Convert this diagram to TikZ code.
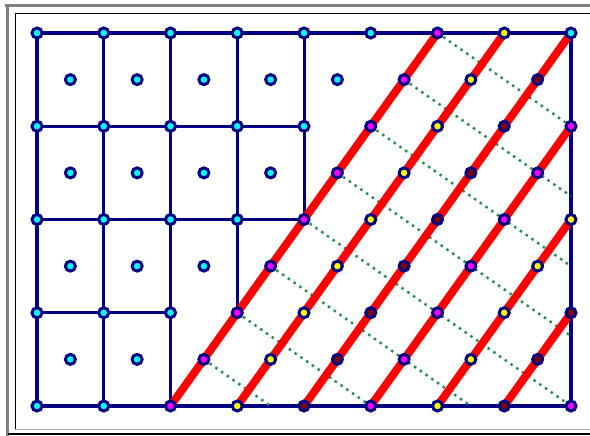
\documentclass[tikz,border=0pt]{standalone}
\usetikzlibrary{backgrounds}
\definecolor{navyc}{RGB}{0,0,128}
\definecolor{cyanc}{RGB}{0,255,255}
\definecolor{magc}{RGB}{255,0,255}
\definecolor{yelc}{RGB}{255,255,0}
\definecolor{drc}{RGB}{128,0,0}
\definecolor{redc}{RGB}{255,0,0}
\definecolor{greenc}{RGB}{46,139,87}
\definecolor{framegray}{RGB}{128,128,128}
\definecolor{framelight}{RGB}{170,170,170}
\begin{document}
\begin{tikzpicture}[x=1pt,y=-1pt,
  dot/.style={circle,draw=navyc,line width=3pt,fill=#1,minimum size=10pt,inner sep=0pt},
  gridline/.style={draw=navyc,line width=3pt},
  borderline/.style={draw=navyc,line width=4pt,line join=miter},
  diag/.style={draw=redc,line width=8pt},
  dual/.style={draw=greenc,line width=2.5pt,dash pattern=on 2.5pt off 4.5pt},
  frameouter/.style={draw=framegray,line width=3pt},
  frameinner/.style={draw=black,line width=1.3pt}]
\useasboundingbox (0,0) rectangle (590,436);
% grid nodes
\foreach \i in {0,...,8}{
  \foreach \j in {0,...,4}{
    \pgfmathtruncatemacro\k{((\i+\j<6) || ((\i==8) && (\j==0))) ? 3 : mod(\i+\j,3)}
    \edef\col{\ifcase\k magc\or yelc\or drc\else cyanc\fi}
    \node[dot=\col] (g\i-\j) at ({37+66.75*\i},{33+93.25*\j}) {};
  }
}
% half-step nodes (cell centres and diagonal nodes)
\foreach \a in {0,...,7}{
  \foreach \b in {0,...,3}{
    \pgfmathtruncatemacro\k{(\a+\b<5) ? 3 : mod(\a+\b+1,3)}
    \edef\col{\ifcase\k magc\or yelc\or drc\else cyanc\fi}
    \node[dot=\col] (h\a-\b) at ({37+66.75*(\a+0.5)},{33+93.25*(\b+0.5)}) {};
  }
}
% free ends of dotted lines
\coordinate (e1) at (571,{33+93.25*1.75});
\coordinate (e2) at (571,{33+93.25*2.5});
\coordinate (e3) at (571,{33+93.25*3.25});
\coordinate (e5) at ({37+66.75*6.5},406);
\coordinate (e7) at ({37+66.75*3.5},406);
\begin{scope}[on background layer]
  % window frame
  \draw[frameouter] (5,6) -- (590,6);
  \draw[frameouter] (7,5) -- (7,436);
  \draw[frameinner] (15,13.5) -- (590,13.5);
  \draw[frameinner] (15.5,13) -- (15.5,429);
  \draw[draw=framelight,line width=1pt] (15,429.5) -- (590,429.5);
  \draw[draw=black,line width=1.6pt] (8,433.8) -- (590,433.8);
  % quad grid
  \draw[gridline] (g0-1.center) -- (g4-1.center);
  \draw[gridline] (g0-2.center) -- (g4-2.center);
  \draw[gridline] (g0-3.center) -- (g2-3.center);
  \draw[gridline] (g1-0.center) -- (g1-4.center);
  \draw[gridline] (g2-0.center) -- (g2-4.center);
  \draw[gridline] (g3-0.center) -- (g3-3.center);
  \draw[gridline] (g4-0.center) -- (g4-2.center);
  \draw[borderline] (g0-0.center) -- (g8-0.center) -- (g8-4.center) -- (g0-4.center) -- cycle;
  % dotted dual lines
  \draw[dual] (g6-0.center) -- (g8-1.center);
  \draw[dual] (h5-0.center) -- (e1);
  \draw[dual] (g5-1.center) -- (e2);
  \draw[dual] (h4-1.center) -- (e3);
  \draw[dual] (g4-2.center) -- (g8-4.center);
  \draw[dual] (h3-2.center) -- (e5);
  \draw[dual] (g3-3.center) -- (g5-4.center);
  \draw[dual] (h2-3.center) -- (e7);
  % red diagonals
  \draw[diag] (g6-0.center) -- (g2-4.center);
  \draw[diag] (g7-0.center) -- (g3-4.center);
  \draw[diag] (g8-0.center) -- (g4-4.center);
  \draw[diag] (g8-1.center) -- (g5-4.center);
  \draw[diag] (g8-2.center) -- (g6-4.center);
  \draw[diag] (g8-3.center) -- (g7-4.center);
\end{scope}
\end{tikzpicture}
\end{document}
